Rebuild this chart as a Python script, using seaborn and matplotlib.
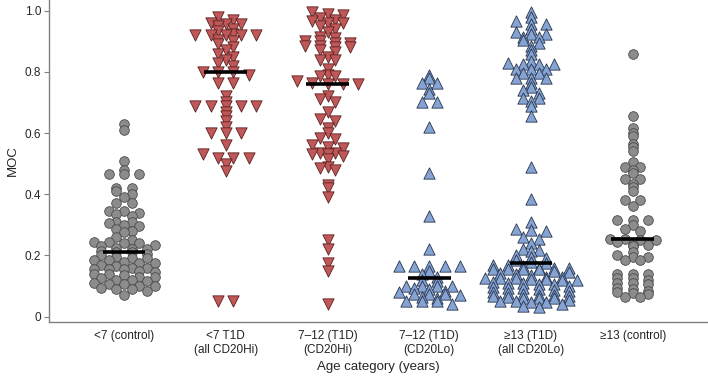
import numpy as np
import pandas as pd
import matplotlib
matplotlib.use("Agg")
import matplotlib.pyplot as plt
import seaborn as sns

# category labels (x axis)
groups = ["<7 (control)", "<7 T1D\n(all CD20Hi)", "7\u201312 (T1D)\n(CD20Hi)",
          "7\u201312 (T1D)\n(CD20Lo)", "\u226513 (T1D)\n(all CD20Lo)", "\u226513 (control)"]

# MOC values, one list per category
ctrl_lt7 = [0.63, 0.61, 0.51, 0.48, 0.465, 0.465, 0.465, 0.42, 0.42, 0.41, 0.40, 0.39,
            0.37, 0.37, 0.345, 0.345, 0.34, 0.335, 0.33, 0.31, 0.31, 0.305, 0.30, 0.295,
            0.285, 0.28, 0.275, 0.26, 0.25, 0.245, 0.245, 0.24, 0.24, 0.235, 0.23, 0.225,
            0.22, 0.22, 0.215, 0.21, 0.21, 0.205, 0.20, 0.195, 0.19, 0.19, 0.185, 0.185,
            0.18, 0.175, 0.175, 0.17, 0.165, 0.16, 0.16, 0.155, 0.155, 0.155, 0.15, 0.145,
            0.14, 0.14, 0.135, 0.13, 0.13, 0.125, 0.12, 0.12, 0.115, 0.11, 0.105, 0.105,
            0.10, 0.10, 0.095, 0.09, 0.09, 0.085, 0.07]
t1d_lt7 = [0.98, 0.97, 0.96, 0.955, 0.955, 0.95, 0.94, 0.935, 0.925, 0.92, 0.92, 0.92,
           0.92, 0.92, 0.905, 0.90, 0.89, 0.88, 0.87, 0.86, 0.85, 0.84, 0.83, 0.82, 0.80,
           0.80, 0.80, 0.79, 0.765, 0.765, 0.72, 0.70, 0.69, 0.69, 0.69, 0.69, 0.69, 0.67,
           0.655, 0.64, 0.62, 0.60, 0.60, 0.60, 0.56, 0.53, 0.52, 0.52, 0.52, 0.50, 0.475,
           0.05, 0.05]
t1d_712_hi = [0.995, 0.99, 0.985, 0.975, 0.97, 0.965, 0.96, 0.96, 0.95, 0.94, 0.93, 0.915,
              0.91, 0.90, 0.90, 0.895, 0.895, 0.885, 0.885, 0.88, 0.88, 0.87, 0.865,
              0.85, 0.84, 0.84, 0.81, 0.79, 0.785, 0.785, 0.77, 0.765, 0.76, 0.76, 0.76,
              0.72, 0.71, 0.70, 0.67, 0.645, 0.64, 0.615, 0.60, 0.585, 0.58, 0.56, 0.555,
              0.55, 0.535, 0.535, 0.53, 0.53, 0.525, 0.515, 0.49, 0.485, 0.48, 0.43, 0.42,
              0.39, 0.25, 0.22, 0.175, 0.15, 0.04]
t1d_712_lo = [0.79, 0.78, 0.765, 0.765, 0.745, 0.73, 0.70, 0.70, 0.62, 0.47, 0.33, 0.22,
              0.165, 0.165, 0.165, 0.165, 0.165, 0.15, 0.14, 0.13, 0.12, 0.115, 0.10, 0.10,
              0.10, 0.10, 0.095, 0.09, 0.085, 0.08, 0.075, 0.075, 0.075, 0.07, 0.065, 0.06,
              0.05, 0.05, 0.05, 0.04]
t1d_ge13 = [0.995, 0.98, 0.965, 0.955, 0.955, 0.94, 0.93, 0.925, 0.925, 0.915, 0.915, 0.905,
            0.895, 0.885, 0.87, 0.86, 0.835, 0.83, 0.825, 0.825, 0.825, 0.81, 0.81, 0.81,
            0.795, 0.795, 0.78, 0.78, 0.78, 0.765, 0.75, 0.74, 0.73, 0.715, 0.715, 0.705,
            0.69, 0.655, 0.49, 0.385, 0.31,
            0.285, 0.283, 0.28, 0.26, 0.255, 0.24, 0.22, 0.218, 0.215, 0.20, 0.195, 0.19,
            0.185, 0.18,
            0.174, 0.17, 0.168, 0.165, 0.16, 0.158, 0.158, 0.157, 0.156, 0.155, 0.155,
            0.15, 0.145, 0.142, 0.14, 0.135, 0.13, 0.128, 0.126, 0.125, 0.125, 0.124,
            0.122, 0.12, 0.118, 0.112, 0.11, 0.109, 0.108, 0.106, 0.10, 0.096, 0.094,
            0.092, 0.09, 0.086, 0.084, 0.08, 0.078, 0.074, 0.071, 0.069, 0.068, 0.066,
            0.064, 0.062, 0.061, 0.06, 0.054, 0.052, 0.05, 0.049, 0.047, 0.042, 0.035,
            0.032]
ctrl_ge13 = [0.86, 0.655, 0.615, 0.60, 0.59, 0.565, 0.555, 0.54, 0.505, 0.49, 0.49, 0.48,
             0.47, 0.45, 0.45, 0.435, 0.425, 0.41, 0.38, 0.38, 0.36, 0.315, 0.315, 0.315,
             0.30, 0.285, 0.28, 0.255, 0.255, 0.25, 0.25, 0.245, 0.235, 0.235, 0.23, 0.21,
             0.20, 0.195, 0.195, 0.185, 0.185, 0.14, 0.14, 0.14, 0.125, 0.125, 0.12, 0.11,
             0.11, 0.105, 0.095, 0.09, 0.085, 0.08, 0.078, 0.075, 0.065, 0.065]

series = [ctrl_lt7, t1d_lt7, t1d_712_hi, t1d_712_lo, t1d_ge13, ctrl_ge13]

# marker style per category
circle = dict(marker="o", color="#8c8c8c", edgecolor="#4a4a4a", s=48)
tri_dn = dict(marker="v", color="#c0585a", edgecolor="#5a2020", s=66)
tri_up = dict(marker="^", color="#86a4d3", edgecolor="#26334d", s=66)
styles = [circle, tri_dn, tri_dn, tri_up, tri_up, circle]

BIN_H = 0.015   # vertical bin for the dot-plot spreading (data units)
STEP = 0.15     # horizontal spacing between dots of one bin (category units)


def spread(values, center):
    # prism-style scatter: values in the same bin are laid out side by side
    v = np.sort(np.asarray(values))[::-1]
    bins = np.round(v / BIN_H).astype(int)
    x = np.empty(len(v))
    for b in np.unique(bins):
        idx = np.where(bins == b)[0]
        n = len(idx)
        x[idx] = center + (np.arange(n) - (n - 1) / 2) * STEP
    return x, v


sns.set_style("ticks")
plt.rcParams["font.family"] = ["Liberation Sans", "DejaVu Sans"]

fig = plt.figure(figsize=(7.08, 3.81), dpi=100)
ax = fig.add_axes([0.069, 0.155, 0.931, 0.845])

for i, (vals, st) in enumerate(zip(series, styles)):
    xs, ys = spread(vals, i)
    sns.scatterplot(x=xs, y=ys, linewidth=0.6, ax=ax, legend=False, zorder=2, **st)
    # median bar
    ax.hlines(np.median(vals), i - 0.21, i + 0.21, color="black", lw=2.6, zorder=4)

ax.set_xlim(-0.74, 5.74)
ax.set_ylim(-0.0175, 1.035)
ax.set_xticks(range(len(groups)))
ax.set_xticklabels(groups, linespacing=1.15)
ax.set_yticks([0, 0.2, 0.4, 0.6, 0.8, 1.0])
ax.set_yticklabels(["0", "0.2", "0.4", "0.6", "0.8", "1.0"])
ax.tick_params(axis="y", length=3.5, width=0.8, color="#808080", labelsize=8.5, pad=2)
ax.tick_params(axis="x", length=0, labelsize=8.5, pad=6, labelcolor="#222222")
ax.set_xlabel("Age category (years)", fontsize=9.5, labelpad=4)
ax.set_ylabel("MOC", fontsize=9.5, labelpad=4)
sns.despine(ax=ax)
for sp in ["left", "bottom"]:
    ax.spines[sp].set_color("#808080")
    ax.spines[sp].set_linewidth(1.0)

fig.savefig("out.png", dpi=100)
